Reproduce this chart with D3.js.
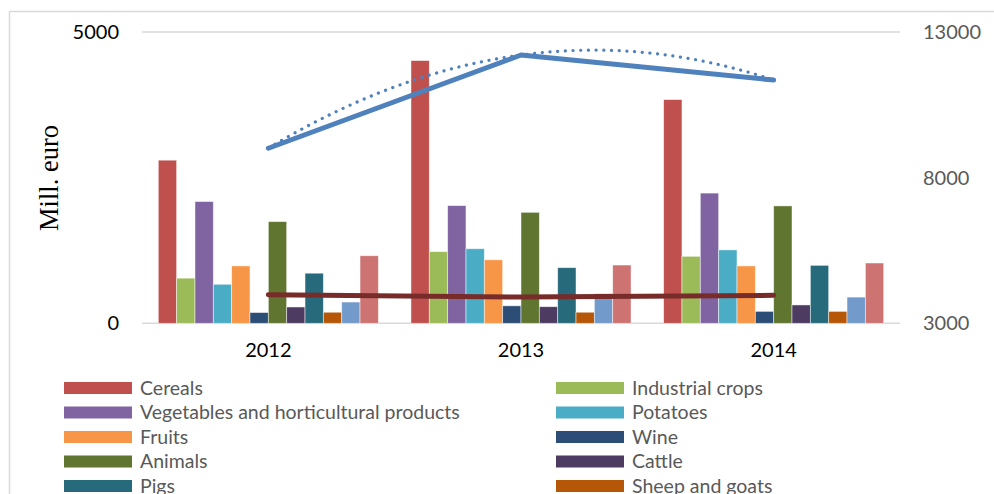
<!DOCTYPE html>
<html><head>
<meta charset="utf-8">
<script src="https://d3js.org/d3.v7.min.js"></script>
<style>
  body { margin: 0; background: #fff; }
  svg { display: block; }
</style>
</head>
<body>
<script>

  // data
  var years = ["2012", "2013", "2014"];
  var seriesNames = ["Cereals", "Industrial crops", "Vegetables and horticultural products", "Potatoes",
                     "Fruits", "Wine", "Animals", "Cattle", "Pigs", "Sheep and goats", "Poultry", "Milk"];
  var seriesColors = ["#C0504D", "#9BBB59", "#8064A2", "#4BACC6", "#F79646", "#2C4D75",
                      "#5F7530", "#4D3B62", "#276A7C", "#B65708", "#729ACA", "#CD7371"];
  var cereals    = [2800, 4510, 3840];
  var industrial = [775, 1230, 1150];
  var vegetables = [2090, 2020, 2235];
  var potatoes   = [670, 1280, 1260];
  var fruits     = [985, 1090, 985];
  var wine       = [185, 300, 205];
  var animals    = [1745, 1905, 2015];
  var cattle     = [280, 285, 315];
  var pigs       = [860, 955, 995];
  var sheep      = [190, 190, 205];
  var poultry    = [365, 510, 450];
  var milk       = [1160, 1000, 1035];
  var barValues = [cereals, industrial, vegetables, potatoes, fruits, wine, animals, cattle, pigs, sheep, poultry, milk];

  // lines on the right axis
  var totalOutput = [9010, 12210, 11350];
  var otherOutput = [3980, 3900, 3960];
  var lineNames = ["Total output (right axis)", "Other output (right axis)", "Poly. (Total output (right axis))"];

  var leftTicks = [0, 5000];
  var rightTicks = [3000, 8000, 13000];

  let width = 994, height = 494;
  let svg = d3.select("body").append("svg").attr("width", width).attr("height", height);

  // chart area frame
  svg.append("rect").attr("x", 9.5).attr("y", 11.5).attr("width", 1000).attr("height", 600)
     .attr("fill", "none").attr("stroke", "#d9d9d9").attr("stroke-width", 1.5);

  let plotLeft = 142, plotRight = 900, plotTop = 32, plotBottom = 323.3;

  let xScale = d3.scaleBand().domain(years).range([plotLeft, plotRight]).paddingInner(0.129).paddingOuter(0.0645);
  let xInner = d3.scaleBand().domain(d3.range(seriesNames.length)).range([0, xScale.bandwidth()]);
  let yLeft = d3.scaleLinear().domain([0, 5000]).range([plotBottom, plotTop]);
  let yRight = d3.scaleLinear().domain([3000, 13000]).range([plotBottom, plotTop]);
  let xCenter = d => xScale(d) + xScale.bandwidth() / 2;

  // gridlines (only the major ones)
  leftTicks.forEach(t => {
    svg.append("line").attr("x1", plotLeft).attr("x2", plotRight).attr("y1", yLeft(t)).attr("y2", yLeft(t))
       .attr("stroke", "#d9d9d9").attr("stroke-width", 1.5);
  });

  // bars
  barValues.forEach((vals, s) => {
    svg.append("g").selectAll("rect").data(vals).enter().append("rect")
      .attr("x", (d, i) => xScale(years[i]) + xInner(s))
      .attr("y", d => yLeft(d))
      .attr("width", xInner.bandwidth())
      .attr("height", d => yLeft(0) - yLeft(d))
      .attr("fill", seriesColors[s])
      .attr("stroke", "#fff").attr("stroke-opacity", 0.6).attr("stroke-width", 0.8);
  });

  // lines
  let line = d3.line().x((d, i) => xCenter(years[i])).y(d => yRight(d));
  svg.append("path").datum(otherOutput).attr("d", line).attr("fill", "none")
     .attr("stroke", "#772C2A").attr("stroke-width", 5).attr("stroke-linecap", "round").attr("stroke-linejoin", "round");
  svg.append("path").datum(totalOutput).attr("d", line).attr("fill", "none")
     .attr("stroke", "#4F81BD").attr("stroke-width", 5).attr("stroke-linecap", "round").attr("stroke-linejoin", "round");

  // 2nd order polynomial trendline on the total (through the 3 points, like the spreadsheet does)
  let x0 = 1, x1 = 2, x2 = 3, y0 = totalOutput[0], y1 = totalOutput[1], y2 = totalOutput[2];
  let poly = t => y0 * (t - x1) * (t - x2) / ((x0 - x1) * (x0 - x2))
                + y1 * (t - x0) * (t - x2) / ((x1 - x0) * (x1 - x2))
                + y2 * (t - x0) * (t - x1) / ((x2 - x0) * (x2 - x1));
  let step = xScale.step();
  let trend = d3.range(0, 61).map(k => {
    let t = 1 + k / 30;
    return [xCenter(years[0]) + (t - 1) * step, yRight(poly(t))];
  });
  svg.append("path").datum(trend).attr("d", d3.line()).attr("fill", "none")
     .attr("stroke", "#4F81BD").attr("stroke-width", 3.2).attr("stroke-linecap", "round")
     .attr("stroke-dasharray", "0.1 7.6");

  // axes
  let axisLeft = svg.append("g").attr("transform", "translate(" + plotLeft + ",0)")
      .call(d3.axisLeft(yLeft).tickValues(leftTicks).tickFormat(d3.format("d")).tickSize(0).tickPadding(23));
  let axisRight = svg.append("g").attr("transform", "translate(" + plotRight + ",0)")
      .call(d3.axisRight(yRight).tickValues(rightTicks).tickFormat(d3.format("d")).tickSize(0).tickPadding(23));
  let axisBottom = svg.append("g").attr("transform", "translate(0," + plotBottom + ")")
      .call(d3.axisBottom(xScale).tickSize(0).tickPadding(20));
  svg.selectAll(".domain").attr("stroke", "none");
  svg.selectAll(".tick text").attr("font-family", "Lato, sans-serif").attr("font-size", 20);
  axisLeft.selectAll("text").attr("fill", "#000");
  axisRight.selectAll("text").attr("fill", "#595959");
  axisBottom.selectAll("text").attr("fill", "#000");

  svg.append("text").attr("transform", "translate(58,178) rotate(-90)")
     .attr("text-anchor", "middle").attr("font-family", "'Liberation Serif', serif").attr("font-size", 26.5)
     .attr("fill", "#000").text("Mill. euro");

  // legend, two columns
  let legendItems = seriesNames.map((n, i) => ({ name: n, color: seriesColors[i], type: "bar" }))
      .concat([{ name: lineNames[0], color: "#4F81BD", type: "line" },
               { name: lineNames[1], color: "#772C2A", type: "line" },
               { name: lineNames[2], color: "#4F81BD", type: "dot" }]);
  legendItems.forEach((d, i) => {
    let col = i % 2, row = Math.floor(i / 2);
    let gx = col === 0 ? 64 : 556, gy = 388 + row * 24.5;
    let g = svg.append("g").attr("transform", "translate(" + gx + "," + gy + ")");
    if (d.type === "bar") {
      g.append("rect").attr("x", 0).attr("y", -6).attr("width", 68).attr("height", 12).attr("fill", d.color);
    } else {
      g.append("line").attr("x1", 2).attr("x2", 66).attr("y1", 0).attr("y2", 0).attr("stroke", d.color)
       .attr("stroke-width", d.type === "dot" ? 3 : 5).attr("stroke-dasharray", d.type === "dot" ? "0.1 7" : null)
       .attr("stroke-linecap", "round");
    }
    g.append("text").attr("x", 76).attr("y", 6.5).attr("font-family", "Lato, sans-serif").attr("font-size", 19.5)
     .attr("fill", "#595959").text(d.name);
  });

</script>
</body>
</html>
